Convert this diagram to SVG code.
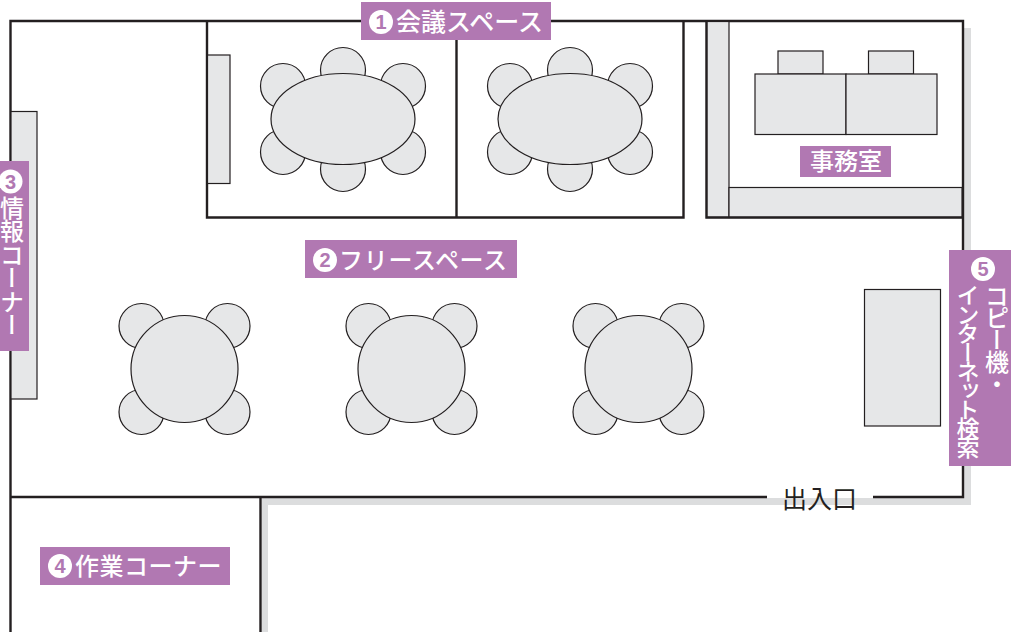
<svg xmlns="http://www.w3.org/2000/svg" xmlns:xlink="http://www.w3.org/1999/xlink" width="1011" height="632" viewBox="0 0 1011 632">
<style>
.f{fill:#e6e7e8;stroke:#231f20;stroke-width:1.2}
.w{fill:none;stroke:#231f20;stroke-width:2.4}
.s{fill:#dcddde}
.p{fill:#b178b2}
.c{fill:#fff}
.n{fill:#b178b2;font-family:"Liberation Sans",sans-serif;font-size:20px;font-weight:700;text-anchor:middle}
.t{fill:#fff;font-family:"Noto Sans CJK JP","Liberation Sans",sans-serif;font-size:24px;font-weight:500}
.v{writing-mode:vertical-rl}
.k{fill:#231f20;font-family:"Noto Sans CJK JP","Liberation Sans",sans-serif;font-size:25px;font-weight:400}
</style>
<defs>
<g id="oval">
<circle class="f" cx="-60" cy="-33" r="22.500"/><circle class="f" cx="0" cy="-49" r="22.500"/><circle class="f" cx="60" cy="-33" r="22.500"/>
<circle class="f" cx="-60" cy="33" r="22.500"/><circle class="f" cx="0" cy="50" r="22.500"/><circle class="f" cx="60" cy="33" r="22.500"/>
<ellipse class="f" cx="0" cy="0" rx="72" ry="45.500"/>
</g>
<g id="round">
<circle class="f" cx="-43" cy="-43" r="22.500"/><circle class="f" cx="43" cy="-43" r="22.500"/>
<circle class="f" cx="-43" cy="43" r="22.500"/><circle class="f" cx="43" cy="43" r="22.500"/>
<circle class="f" cx="0" cy="0" r="53.500"/>
</g>
</defs>
<rect width="1011" height="632" fill="#fff"/>
<g id="shadow">
<rect class="s" x="964" y="28" width="7" height="476"/>
<rect class="s" x="262" y="498" width="709" height="7"/>
<rect class="s" x="262" y="498" width="6" height="134"/>
</g>
<g id="walls">
<path class="w" d="M10.500 632V21H963V497H873M767 497H10.500M260.500 497V632"/>
<path class="w" d="M207 21V217.500H683.500V21M456.500 21V217.500"/>
</g>
<g id="shelf-left"><rect class="f" x="11" y="111.500" width="26" height="287.500"/></g>
<g id="sofa"><rect class="f" x="207.500" y="55" width="22.500" height="128.500"/></g>
<g id="meeting-table-1"><use xlink:href="#oval" href="#oval" x="343" y="119"/></g>
<g id="meeting-table-2"><use xlink:href="#oval" href="#oval" x="570" y="119"/></g>
<g id="office">
<rect class="f" x="706.500" y="21.500" width="22.500" height="196"/>
<rect class="f" x="729" y="187.500" width="233" height="30"/>
<path class="w" d="M706.500 21V217.500H963"/>
<rect class="f" x="778" y="51" width="45" height="23"/>
<rect class="f" x="868.500" y="51" width="45" height="23"/>
<rect class="f" x="755" y="74" width="91" height="60.500"/>
<rect class="f" x="846" y="74" width="91" height="60.500"/>
</g>
<g id="round-table-1"><use xlink:href="#round" href="#round" x="184.500" y="369"/></g>
<g id="round-table-2"><use xlink:href="#round" href="#round" x="411.500" y="369"/></g>
<g id="round-table-3"><use xlink:href="#round" href="#round" x="638.500" y="369"/></g>
<g id="copier"><rect class="f" x="864.500" y="289.500" width="76" height="136.500"/></g>
<g id="label-1"><rect class="p" x="361" y="2" width="190" height="38"/><circle class="c" cx="381" cy="22" r="12"/><text class="n" x="381" y="29">1</text><text class="t" x="396" y="31" style="font-size:25px">会議スペース</text></g>
<g id="label-office"><rect class="p" x="800" y="146" width="91" height="31"/><text class="t" x="810" y="170">事務室</text></g>
<g id="label-2"><rect class="p" x="305" y="240" width="212" height="38"/><circle class="c" cx="325" cy="260" r="12"/><text class="n" x="325" y="267">2</text><text class="t" x="339" y="269" style="letter-spacing:.7px">フリースペース</text></g>
<g id="label-3"><rect class="p" x="0" y="161" width="29" height="190"/><circle class="c" cx="10.500" cy="181.500" r="12"/><text class="n" x="10.500" y="188.500">3</text><text class="t v" x="12" y="195.500" style="letter-spacing:-.5px">情報コーナー</text></g>
<g id="label-4"><rect class="p" x="40" y="547" width="190" height="38"/><circle class="c" cx="60" cy="566" r="12"/><text class="n" x="60" y="573">4</text><text class="t" x="75" y="575" style="letter-spacing:.5px">作業コーナー</text></g>
<g id="label-5"><rect class="p" x="949" y="250" width="62" height="216"/><circle class="c" cx="983" cy="269" r="12"/><text class="n" x="983" y="276">5</text><text class="t v" x="997" y="284" style="letter-spacing:-2px">コピー機・</text><text class="t v" x="968" y="284" style="font-size:23px;letter-spacing:-4px">インターネット検索</text></g>
<g id="entrance"><text class="k" x="782" y="508">出入口</text></g>
</svg>
